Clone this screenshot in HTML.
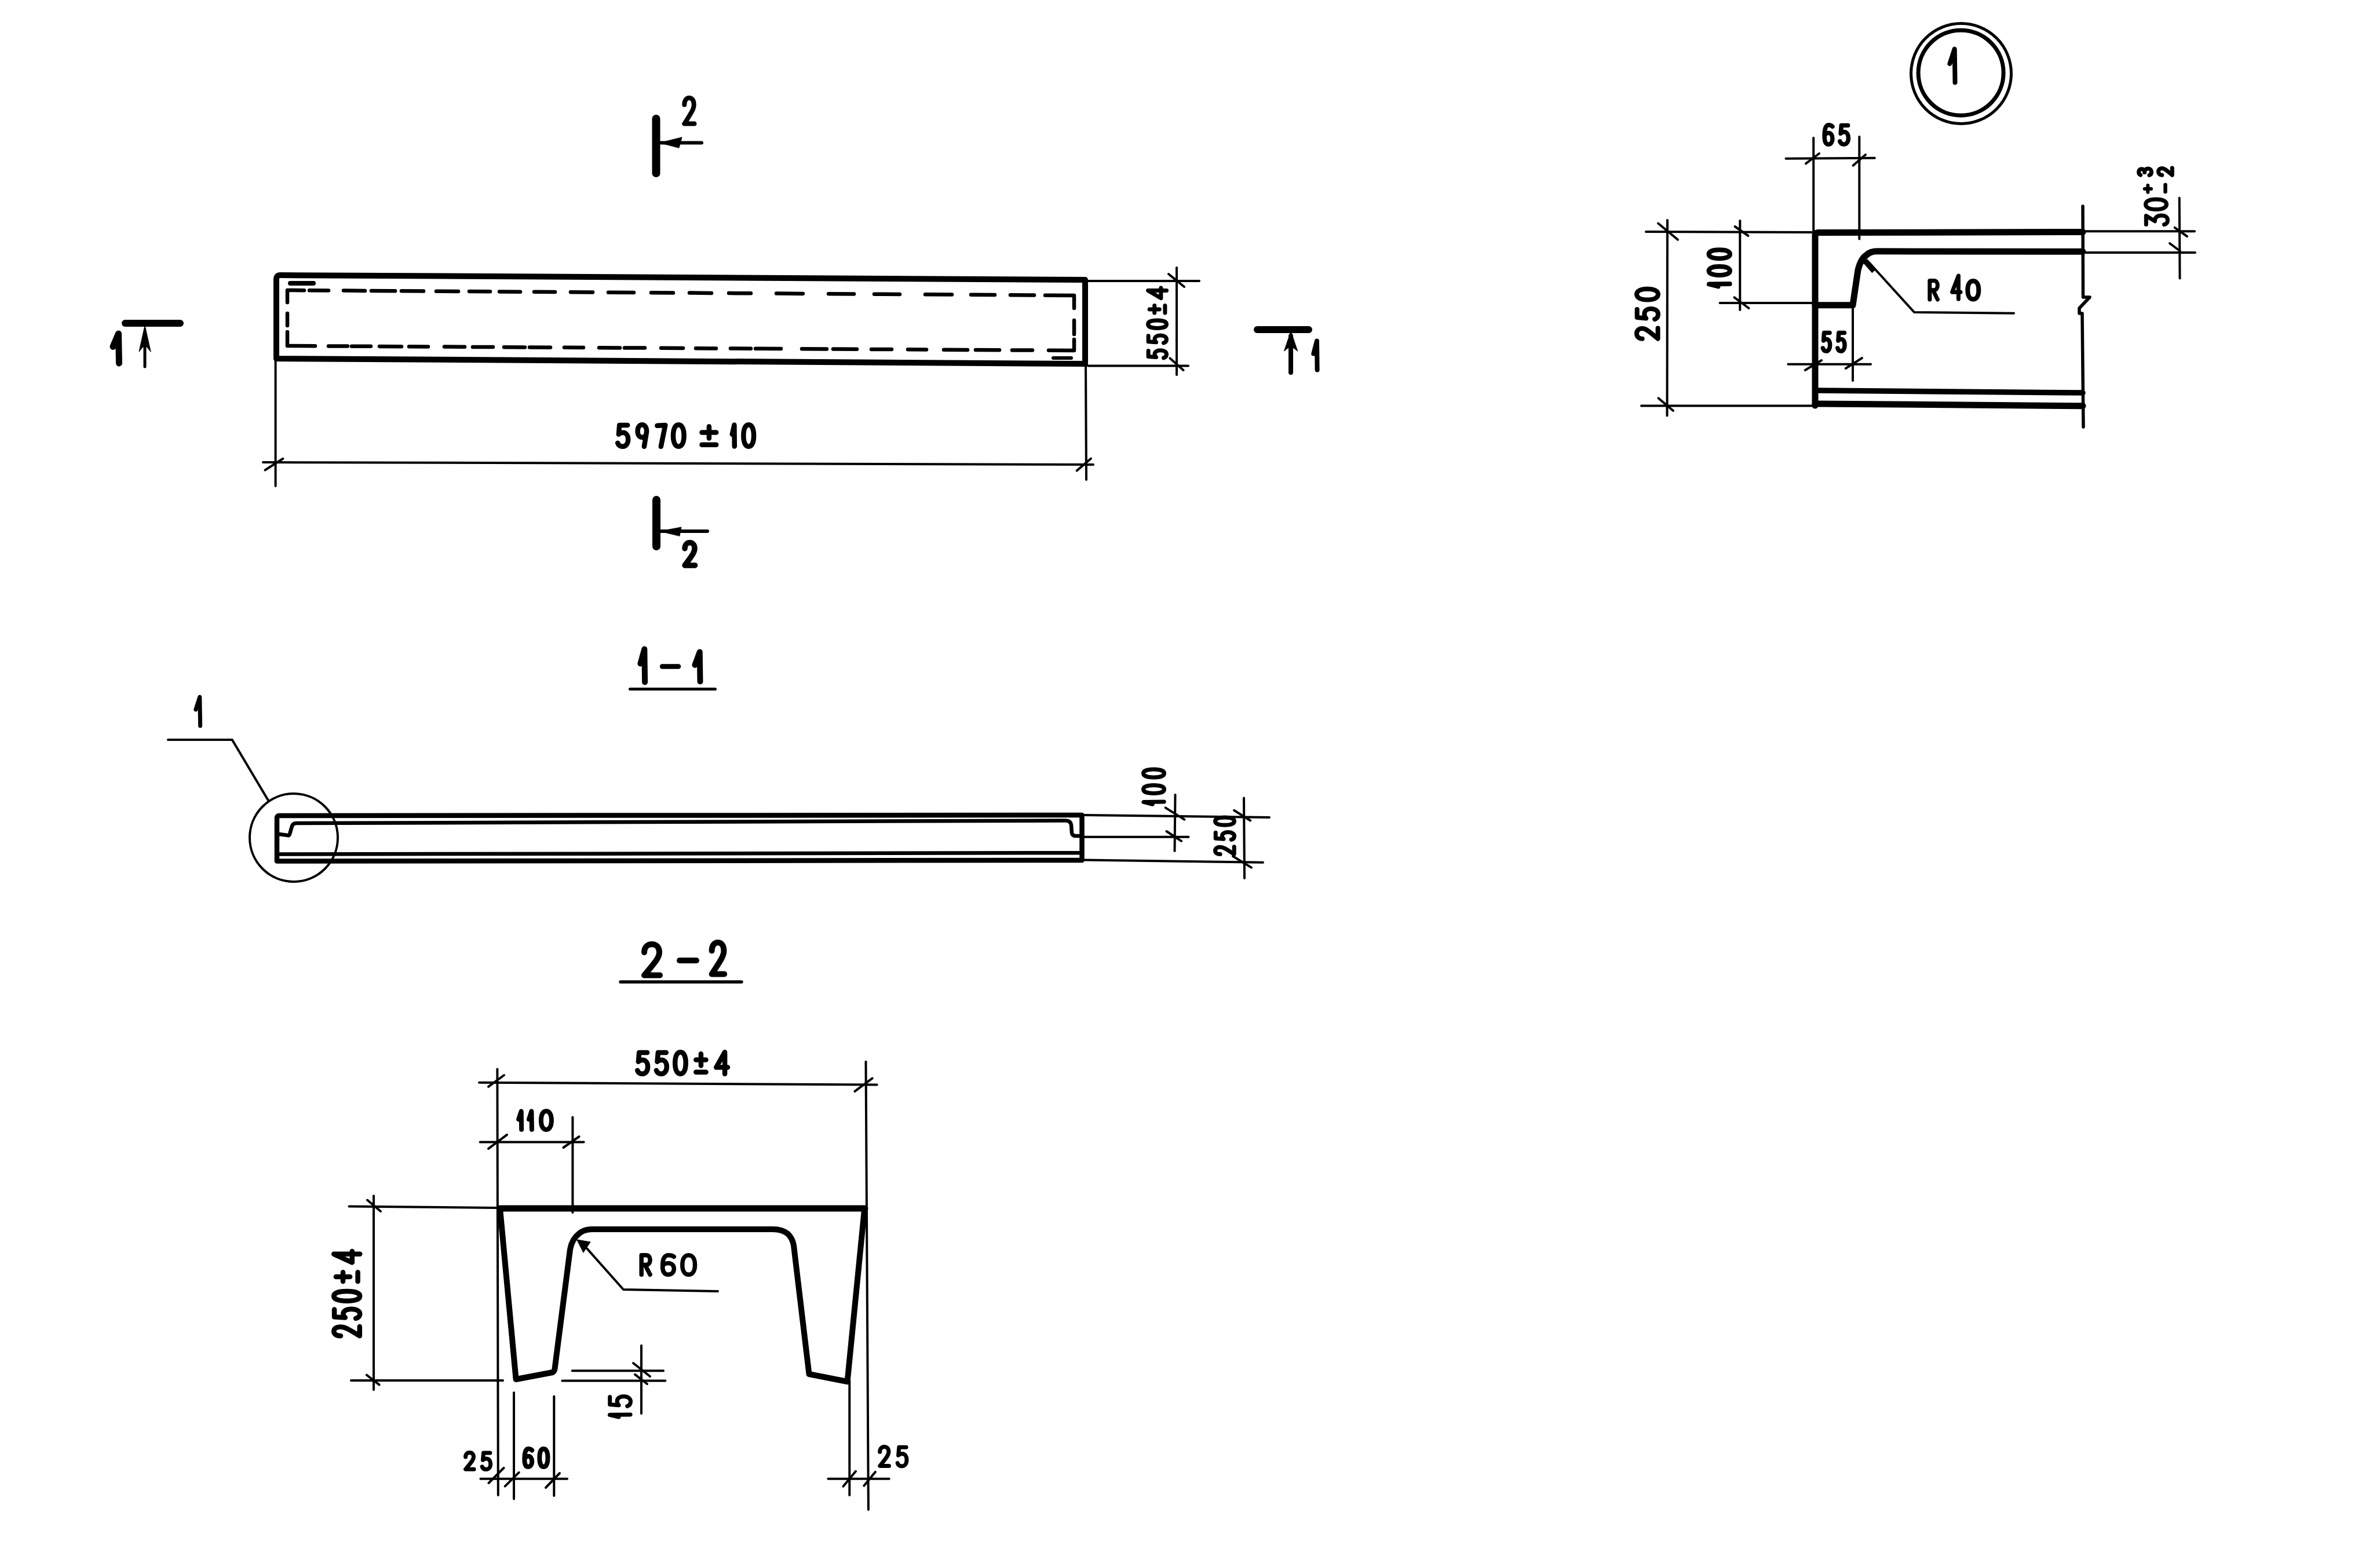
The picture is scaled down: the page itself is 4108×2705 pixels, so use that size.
<!DOCTYPE html>
<html><head><meta charset="utf-8"><style>
html,body{margin:0;padding:0;background:#fff;}
body{width:4108px;height:2705px;overflow:hidden;font-family:"Liberation Sans",sans-serif;}
svg{display:block;}
svg path,svg circle{fill:none;stroke:#000;stroke-linecap:round;stroke-linejoin:round;}
</style></head><body>
<svg width="4108" height="2705" viewBox="0 0 4108 2705">
<rect x="0" y="0" width="4108" height="2705" fill="#fff"/>
<path d="M477,619 L477,482 Q477,475 484,475 L1873,483 L1873,628 Z" stroke-width="10" stroke-linejoin="round"/>
<path d="M501.0,489.0 L541.0,489.0" stroke-width="8"/>
<path d="M1818.0,618.0 L1849.0,618.0" stroke-width="6"/>
<path d="M534.0,501.3 L567.0,501.5" stroke-width="6.5"/>
<path d="M593.0,501.6 L630.0,501.9" stroke-width="6.5"/>
<path d="M641.0,502.0 L682.0,502.2" stroke-width="6.5"/>
<path d="M693.0,502.3 L731.0,502.6" stroke-width="6.5"/>
<path d="M753.0,502.7 L791.0,503.0" stroke-width="6.5"/>
<path d="M810.0,503.1 L846.0,503.3" stroke-width="6.5"/>
<path d="M862.0,503.4 L898.0,503.7" stroke-width="6.5"/>
<path d="M922.0,503.8 L958.0,504.1" stroke-width="6.5"/>
<path d="M985.0,504.2 L1023.0,504.5" stroke-width="6.5"/>
<path d="M1050.0,504.7 L1094.0,505.0" stroke-width="6.5"/>
<path d="M1124.0,505.2 L1162.0,505.4" stroke-width="6.5"/>
<path d="M1190.0,505.6 L1228.0,505.9" stroke-width="6.5"/>
<path d="M1258.0,506.1 L1296.0,506.3" stroke-width="6.5"/>
<path d="M1340.0,506.6 L1386.0,506.9" stroke-width="6.5"/>
<path d="M1430.0,507.2 L1474.0,507.5" stroke-width="6.5"/>
<path d="M1509.0,507.7 L1553.0,508.0" stroke-width="6.5"/>
<path d="M1597.0,508.3 L1643.0,508.6" stroke-width="6.5"/>
<path d="M1676.0,508.8 L1717.0,509.1" stroke-width="6.5"/>
<path d="M1744.0,509.3 L1785.0,509.5" stroke-width="6.5"/>
<path d="M567.0,597.4 L600.0,597.6" stroke-width="6.5"/>
<path d="M607.0,597.7 L640.0,597.8" stroke-width="6.5"/>
<path d="M655.0,597.9 L693.0,598.2" stroke-width="6.5"/>
<path d="M706.0,598.2 L739.0,598.4" stroke-width="6.5"/>
<path d="M767.0,598.6 L802.0,598.8" stroke-width="6.5"/>
<path d="M816.0,598.9 L851.0,599.1" stroke-width="6.5"/>
<path d="M870.0,599.2 L906.0,599.4" stroke-width="6.5"/>
<path d="M914.0,599.5 L950.0,599.7" stroke-width="6.5"/>
<path d="M974.0,599.8 L1007.0,600.0" stroke-width="6.5"/>
<path d="M1034.0,600.2 L1070.0,600.4" stroke-width="6.5"/>
<path d="M1078.0,600.4 L1113.0,600.6" stroke-width="6.5"/>
<path d="M1141.0,600.8 L1179.0,601.0" stroke-width="6.5"/>
<path d="M1201.0,601.2 L1236.0,601.4" stroke-width="6.5"/>
<path d="M1261.0,601.5 L1296.0,601.7" stroke-width="6.5"/>
<path d="M1304.0,601.8 L1348.0,602.0" stroke-width="6.5"/>
<path d="M1384.0,602.2 L1427.0,602.5" stroke-width="6.5"/>
<path d="M1438.0,602.5 L1479.0,602.8" stroke-width="6.5"/>
<path d="M1504.0,602.9 L1539.0,603.1" stroke-width="6.5"/>
<path d="M1567.0,603.3 L1599.0,603.5" stroke-width="6.5"/>
<path d="M1629.0,603.7 L1670.0,603.9" stroke-width="6.5"/>
<path d="M1684.0,604.0 L1725.0,604.2" stroke-width="6.5"/>
<path d="M1747.0,604.4 L1782.0,604.6" stroke-width="6.5"/>
<path d="M525.0,501.2 L496.0,501.0 L496.0,522.0" stroke-width="6.5"/>
<path d="M496.0,541.0 L496.0,562.0" stroke-width="6.5"/>
<path d="M496.0,573.0 L496.0,597.0 L544.0,597.3" stroke-width="6.5"/>
<path d="M1804.0,509.7 L1854.0,510.0 L1854.0,532.0" stroke-width="6.5"/>
<path d="M1854.0,553.0 L1854.0,577.0" stroke-width="6.5"/>
<path d="M1854.0,586.0 L1854.0,605.0 L1810.0,604.7" stroke-width="6.5"/>
<path d="M475.6,622.0 L475.6,839.0" stroke-width="4"/>
<path d="M1874.0,628.0 L1875.0,828.0" stroke-width="4"/>
<path d="M454.0,798.0 L1887.0,802.0" stroke-width="4"/>
<path d="M457.5,811.5 L488.4,791.8" stroke-width="4"/>
<path d="M1858.6,812.4 L1883.0,791.5" stroke-width="4"/>
<path d="M 1083.2,734.0 L 1069.2,734.0 L 1067.9,749.8 C 1069.9,747.5 1072.6,746.8 1075.2,746.8 C 1080.9,746.8 1084.2,752.0 1084.2,758.4 C 1084.2,765.9 1080.2,770.8 1074.9,770.8 C 1070.2,770.8 1067.2,768.1 1066.2,764.8" stroke-width="8.5"/>
<path d="M 1116.1,745.2 C 1115.8,751.2 1112.8,755.0 1108.3,755.0 C 1103.5,755.0 1100.6,750.5 1100.6,744.1 C 1100.6,737.8 1103.8,733.2 1108.3,733.2 C 1113.1,733.2 1116.1,737.8 1116.1,745.2 L 1111.9,770.8" stroke-width="8.5"/>
<path d="M 1134.3,734.8 L 1148.3,734.0 L 1140.8,770.8" stroke-width="8.5"/>
<path d="M 1171.3,733.2 C 1176.9,733.2 1180.6,740.0 1180.6,752.0 C 1180.6,764.0 1176.9,770.8 1171.3,770.8 C 1165.6,770.8 1162.0,764.0 1162.0,752.0 C 1162.0,740.0 1165.6,733.2 1171.3,733.2 Z" stroke-width="8.5"/>
<path d="M 1223.9,736.2 L 1223.9,756.5 M 1211.5,746.4 L 1236.2,746.4 M 1211.5,767.8 L 1236.2,767.8" stroke-width="8.5"/>
<path d="M 1263.8,749.8 L 1267.4,733.6 L 1267.8,770.4" stroke-width="8.5"/>
<path d="M 1292.2,733.2 C 1297.6,733.2 1301.1,740.0 1301.1,752.0 C 1301.1,764.0 1297.6,770.8 1292.2,770.8 C 1286.8,770.8 1283.3,764.0 1283.3,752.0 C 1283.3,740.0 1286.8,733.2 1292.2,733.2 Z" stroke-width="8.5"/>
<path d="M1878.0,485.0 L2070.0,485.0" stroke-width="4"/>
<path d="M1878.0,631.5 L2051.0,631.5" stroke-width="4"/>
<path d="M2031.0,462.0 L2031.0,647.0" stroke-width="4"/>
<path d="M2017.0,473.0 L2044.0,495.0" stroke-width="4"/>
<path d="M2019.5,618.4 L2042.5,639.0" stroke-width="4"/>
<path d="M 1982.1,605.5 L 1982.1,615.6 L 1995.6,616.6 C 1993.7,615.1 1993.0,613.2 1993.0,611.2 C 1993.0,607.1 1997.5,604.7 2002.9,604.7 C 2009.3,604.7 2013.5,607.6 2013.5,611.5 C 2013.5,614.9 2011.3,617.0 2008.4,617.8" stroke-width="7.0"/>
<path d="M 1982.1,579.7 L 1982.1,589.8 L 1995.6,590.8 C 1993.7,589.3 1993.0,587.4 1993.0,585.5 C 1993.0,581.3 1997.5,578.9 2002.9,578.9 C 2009.3,578.9 2013.5,581.8 2013.5,585.7 C 2013.5,589.1 2011.3,591.2 2008.4,592.0" stroke-width="7.0"/>
<path d="M 1981.5,559.7 C 1981.5,555.5 1987.3,552.9 1997.5,552.9 C 2007.7,552.9 2013.5,555.5 2013.5,559.7 C 2013.5,563.8 2007.7,566.4 1997.5,566.4 C 1987.3,566.4 1981.5,563.8 1981.5,559.7 Z" stroke-width="7.0"/>
<path d="M 1984.1,533.9 L 2001.3,533.9 M 1992.7,540.1 L 1992.7,527.6 M 2010.9,540.1 L 2010.9,527.6" stroke-width="7.0"/>
<path d="M 2013.5,501.5 L 1981.5,501.5 L 2003.9,514.7 L 2003.9,497.1" stroke-width="7.0"/>
<path d="M216.0,558.0 L311.0,558.0" stroke-width="12"/>
<path d="M250.0,575.0 L250.0,633.0" stroke-width="5"/>
<path d="M250.0,562.0 L240.0,607.0 L246.5,599.0 L253.5,599.0 L260.0,607.0 Z" style="fill:#000;stroke:#000;stroke-width:1"/>
<path d="M 195.0,598.4 L 204.5,576.0 L 205.5,627.0" stroke-width="11.0"/>
<path d="M2170.0,569.0 L2259.0,569.0" stroke-width="12"/>
<path d="M2228.0,580.0 L2228.0,643.0" stroke-width="8"/>
<path d="M2228.0,572.0 L2216.5,606.0 L2224.0,600.0 L2232.0,600.0 L2239.5,606.0 Z" style="fill:#000;stroke:#000;stroke-width:1"/>
<path d="M 2267.3,610.4 L 2273.0,588.5 L 2273.6,638.5" stroke-width="8.0"/>
<path d="M1132.5,205.0 L1132.5,299.0" stroke-width="14"/>
<path d="M1140.0,246.5 L1211.0,246.5" stroke-width="6"/>
<path d="M1139.0,246.5 L1177.0,237.0 L1172.0,255.0 Z" style="fill:#000;stroke:#000;stroke-width:1"/>
<path d="M 1181.3,180.7 C 1181.3,173.5 1184.8,169.0 1189.5,169.0 C 1194.6,169.0 1197.7,173.5 1197.7,180.7 C 1197.7,187.9 1193.9,193.8 1181.3,213.6 L 1198.4,213.6" stroke-width="8.0"/>
<path d="M1133.0,863.0 L1133.0,943.0" stroke-width="14"/>
<path d="M1140.0,917.0 L1221.0,917.0" stroke-width="6"/>
<path d="M1139.0,917.0 L1176.0,910.0 L1173.0,925.0 Z" style="fill:#000;stroke:#000;stroke-width:1"/>
<path d="M 1182.0,947.0 C 1182.0,940.7 1185.6,936.8 1190.5,936.8 C 1195.7,936.8 1199.0,940.7 1199.0,947.0 C 1199.0,953.3 1195.0,958.5 1182.0,975.9 L 1199.6,975.9" stroke-width="9.5"/>
<path d="M 1105.4,1145.5 L 1112.3,1120.6 L 1113.1,1177.4" stroke-width="10.0"/>
<path d="M1143.0,1150.5 L1171.0,1150.5" stroke-width="8.5"/>
<path d="M 1199.4,1147.9 L 1207.7,1125.5 L 1208.5,1176.5" stroke-width="10.0"/>
<path d="M1087.5,1189.5 L1234.5,1189.5" stroke-width="5"/>
<path d="M 337.9,1224.9 L 344.8,1203.0 L 345.6,1253.0" stroke-width="7.0"/>
<path d="M290.0,1277.0 L400.7,1277.0 L463.2,1382.0" stroke-width="4"/>
<circle cx="507" cy="1446" r="76" stroke-width="4"/>
<path d="M478,1486.5 L478,1412 Q478,1408 482,1408 L1867.5,1407 L1867.5,1485 L482,1486.5 Z" stroke-width="8.5" stroke-linejoin="round"/>
<path d="M482.0,1474.6 L1862.0,1472.2" stroke-width="6.5"/>
<path d="M482,1440 L497,1442 Q499,1443 500,1440 L504,1426 Q506,1421 512,1421 L1839,1416.5 Q1848,1416.5 1849,1424 L1850,1438 Q1851,1443 1857,1443 L1862,1443" stroke-width="6.5" stroke-linejoin="round"/>
<path d="M1872.0,1407.0 L2191.0,1411.0" stroke-width="4"/>
<path d="M1872.0,1444.7 L2051.5,1444.7" stroke-width="4"/>
<path d="M1872.0,1484.4 L2180.0,1488.8" stroke-width="4"/>
<path d="M2028.5,1372.0 L2027.5,1469.0" stroke-width="4"/>
<path d="M2147.0,1377.6 L2148.0,1516.0" stroke-width="4"/>
<path d="M2011.7,1394.4 L2044.4,1414.7" stroke-width="4"/>
<path d="M2013.5,1435.0 L2039.0,1451.8" stroke-width="4"/>
<path d="M2130.0,1398.8 L2158.2,1416.5" stroke-width="4"/>
<path d="M2128.0,1478.0 L2160.0,1497.6" stroke-width="4"/>
<path d="M 1989.3,1388.3 L 1973.9,1384.4 L 2009.1,1384.0" stroke-width="7.0"/>
<path d="M 1973.5,1362.4 C 1973.5,1358.2 1980.0,1355.4 1991.5,1355.4 C 2003.0,1355.4 2009.5,1358.2 2009.5,1362.4 C 2009.5,1366.6 2003.0,1369.4 1991.5,1369.4 C 1980.0,1369.4 1973.5,1366.6 1973.5,1362.4 Z" stroke-width="7.0"/>
<path d="M 1973.5,1335.0 C 1973.5,1330.7 1980.0,1328.0 1991.5,1328.0 C 2003.0,1328.0 2009.5,1330.7 2009.5,1335.0 C 2009.5,1339.2 2003.0,1341.9 1991.5,1341.9 C 1980.0,1341.9 1973.5,1339.2 1973.5,1335.0 Z" stroke-width="7.0"/>
<path d="M 2106.1,1474.6 C 2100.8,1474.6 2097.5,1472.0 2097.5,1468.4 C 2097.5,1464.6 2100.8,1462.3 2106.1,1462.3 C 2111.4,1462.3 2115.7,1465.1 2130.2,1474.6 L 2130.2,1461.8" stroke-width="7.0"/>
<path d="M 2098.2,1437.3 L 2098.2,1447.3 L 2112.0,1448.2 C 2110.0,1446.8 2109.4,1444.9 2109.4,1443.0 C 2109.4,1439.0 2114.0,1436.6 2119.6,1436.6 C 2126.2,1436.6 2130.5,1439.5 2130.5,1443.2 C 2130.5,1446.5 2128.2,1448.7 2125.2,1449.4" stroke-width="7.0"/>
<path d="M 2097.5,1417.6 C 2097.5,1413.6 2103.4,1411.0 2114.0,1411.0 C 2124.6,1411.0 2130.5,1413.6 2130.5,1417.6 C 2130.5,1421.6 2124.6,1424.2 2114.0,1424.2 C 2103.4,1424.2 2097.5,1421.6 2097.5,1417.6 Z" stroke-width="7.0"/>
<path d="M 1112.0,1644.0 C 1112.0,1635.4 1117.5,1630.0 1125.0,1630.0 C 1133.0,1630.0 1138.0,1635.4 1138.0,1644.0 C 1138.0,1652.7 1132.0,1659.7 1112.0,1683.5 L 1139.0,1683.5" stroke-width="10.0"/>
<path d="M1173.0,1658.0 L1202.0,1658.0" stroke-width="10"/>
<path d="M 1228.6,1641.3 C 1228.6,1632.5 1233.0,1627.0 1239.0,1627.0 C 1245.4,1627.0 1249.4,1632.5 1249.4,1641.3 C 1249.4,1650.1 1244.6,1657.2 1228.6,1681.5 L 1250.2,1681.5" stroke-width="10.0"/>
<path d="M1071.0,1695.0 L1280.0,1695.0" stroke-width="5.5"/>
<path d="M858.4,1845.5 L859.8,2581.0" stroke-width="4"/>
<path d="M1494.5,1832.7 L1498.9,2606.0" stroke-width="4"/>
<path d="M827.0,1868.8 L1513.7,1872.6" stroke-width="4"/>
<path d="M843.0,1875.8 L870.0,1856.0" stroke-width="4"/>
<path d="M1475.4,1883.8 L1505.7,1861.4" stroke-width="4"/>
<path d="M 1117.1,1817.0 L 1103.2,1817.0 L 1101.9,1832.8 C 1103.9,1830.5 1106.5,1829.8 1109.2,1829.8 C 1114.8,1829.8 1118.1,1835.0 1118.1,1841.4 C 1118.1,1848.9 1114.2,1853.8 1108.9,1853.8 C 1104.2,1853.8 1101.2,1851.1 1100.2,1847.8" stroke-width="8.5"/>
<path d="M 1149.8,1817.0 L 1135.9,1817.0 L 1134.5,1832.8 C 1136.5,1830.5 1139.2,1829.8 1141.8,1829.8 C 1147.5,1829.8 1150.8,1835.0 1150.8,1841.4 C 1150.8,1848.9 1146.8,1853.8 1141.5,1853.8 C 1136.9,1853.8 1133.9,1851.1 1132.9,1847.8" stroke-width="8.5"/>
<path d="M 1174.5,1816.2 C 1180.1,1816.2 1183.7,1823.0 1183.7,1835.0 C 1183.7,1847.0 1180.1,1853.8 1174.5,1853.8 C 1168.8,1853.8 1165.2,1847.0 1165.2,1835.0 C 1165.2,1823.0 1168.8,1816.2 1174.5,1816.2 Z" stroke-width="8.5"/>
<path d="M 1209.9,1819.2 L 1209.9,1839.5 M 1201.3,1829.4 L 1218.5,1829.4 M 1201.3,1850.8 L 1218.5,1850.8" stroke-width="8.5"/>
<path d="M 1251.1,1853.8 L 1251.1,1816.2 L 1236.2,1842.5 L 1256.0,1842.5" stroke-width="8.5"/>
<path d="M828.7,1971.6 L1007.6,1971.6" stroke-width="4"/>
<path d="M988.4,1928.5 L988.4,2093.0" stroke-width="4"/>
<path d="M843.0,1982.8 L875.0,1958.8" stroke-width="4"/>
<path d="M972.4,1981.0 L999.6,1962.0" stroke-width="4"/>
<path d="M 895.2,1932.1 L 899.7,1918.3 L 900.1,1949.7" stroke-width="8.0"/>
<path d="M 913.0,1932.1 L 917.4,1918.3 L 917.9,1949.7" stroke-width="8.0"/>
<path d="M 942.9,1918.0 C 948.3,1918.0 951.9,1923.8 951.9,1934.0 C 951.9,1944.2 948.3,1950.0 942.9,1950.0 C 937.4,1950.0 933.9,1944.2 933.9,1934.0 C 933.9,1923.8 937.4,1918.0 942.9,1918.0 Z" stroke-width="8.0"/>
<path d="M863.0,2086.0 L1493.0,2086.0" stroke-width="11"/>
<path d="M863,2086 L890.6,2381 L953.8,2369 Q957,2367 957.5,2363 L984,2157 Q987,2139 1000,2129 Q1008,2122 1022,2122 L1334.7,2122 Q1350,2122 1360,2130 Q1368,2138 1370,2150 L1396.5,2372 L1462.6,2385 L1492,2088" stroke-width="10" stroke-linejoin="round"/>
<path d="M1005.0,2146.0 L1076.0,2226.0 L1239.0,2229.0" stroke-width="4"/>
<path d="M996.0,2140.0 L1019.0,2144.0 L1007.0,2162.0 Z" style="fill:#000;stroke:#000;stroke-width:1"/>
<path d="M 1107.2,2200.2 L 1107.2,2166.8 L 1115.3,2166.8 C 1119.7,2166.8 1122.1,2170.1 1122.1,2175.1 C 1122.1,2180.2 1119.3,2183.5 1115.3,2183.5 L 1107.2,2183.5 M 1113.4,2183.5 L 1122.1,2200.2" stroke-width="7.5"/>
<path d="M 1163.3,2169.4 C 1161.0,2167.8 1157.9,2166.8 1154.0,2166.8 C 1147.1,2166.8 1143.6,2173.4 1143.6,2185.5 C 1143.6,2195.6 1147.1,2200.2 1153.3,2200.2 C 1159.5,2200.2 1163.3,2195.9 1163.3,2190.2 C 1163.3,2184.5 1159.5,2180.5 1153.3,2180.5 C 1147.8,2180.5 1144.4,2183.5 1143.6,2186.8" stroke-width="7.5"/>
<path d="M 1188.6,2166.8 C 1195.2,2166.8 1199.5,2172.8 1199.5,2183.5 C 1199.5,2194.2 1195.2,2200.2 1188.6,2200.2 C 1182.0,2200.2 1177.8,2194.2 1177.8,2183.5 C 1177.8,2172.8 1182.0,2166.8 1188.6,2166.8 Z" stroke-width="7.5"/>
<path d="M645.0,2064.3 L645.0,2399.0" stroke-width="4"/>
<path d="M602.4,2082.4 L857.0,2085.0" stroke-width="4"/>
<path d="M606.0,2383.0 L868.0,2383.0" stroke-width="4"/>
<path d="M634.0,2071.5 L657.0,2091.0" stroke-width="4"/>
<path d="M632.8,2373.5 L654.6,2390.4" stroke-width="4"/>
<path d="M 588.0,2306.1 C 580.8,2306.1 576.2,2302.8 576.2,2298.3 C 576.2,2293.5 580.8,2290.5 588.0,2290.5 C 595.1,2290.5 601.0,2294.1 620.8,2306.1 L 620.8,2289.9" stroke-width="8.5"/>
<path d="M 577.1,2260.6 L 577.1,2273.2 L 596.0,2274.4 C 593.4,2272.6 592.5,2270.2 592.5,2267.8 C 592.5,2262.7 598.8,2259.7 606.4,2259.7 C 615.4,2259.7 621.2,2263.3 621.2,2268.1 C 621.2,2272.3 618.1,2275.0 614.0,2275.9" stroke-width="8.5"/>
<path d="M 576.2,2237.3 C 576.2,2232.2 584.4,2228.9 598.8,2228.9 C 613.1,2228.9 621.2,2232.2 621.2,2237.3 C 621.2,2242.4 613.1,2245.7 598.8,2245.7 C 584.4,2245.7 576.2,2242.4 576.2,2237.3 Z" stroke-width="8.5"/>
<path d="M 579.9,2204.1 L 604.1,2204.1 M 592.0,2211.9 L 592.0,2196.3 M 617.6,2211.9 L 617.6,2196.3" stroke-width="8.5"/>
<path d="M 621.2,2164.8 L 576.2,2164.8 L 607.8,2179.3 L 607.8,2159.9" stroke-width="8.5"/>
<path d="M987.8,2366.2 L1145.0,2366.2" stroke-width="4"/>
<path d="M970.4,2383.5 L1148.3,2383.5" stroke-width="4"/>
<path d="M1107.0,2322.8 L1107.0,2440.0" stroke-width="4"/>
<path d="M1093.0,2353.0 L1122.0,2376.0" stroke-width="4"/>
<path d="M1096.0,2372.7 L1117.0,2389.0" stroke-width="4"/>
<path d="M 1068.1,2446.0 L 1052.4,2442.3 L 1088.1,2441.9" stroke-width="7.0"/>
<path d="M 1052.7,2411.4 L 1052.7,2424.5 L 1068.1,2425.7 C 1065.9,2423.8 1065.1,2421.3 1065.1,2418.9 C 1065.1,2413.6 1070.2,2410.4 1076.5,2410.4 C 1083.8,2410.4 1088.5,2414.2 1088.5,2419.2 C 1088.5,2423.5 1085.9,2426.3 1082.7,2427.3" stroke-width="7.0"/>
<path d="M829.4,2552.7 L979.0,2552.7" stroke-width="4"/>
<path d="M887.0,2404.0 L887.0,2587.4" stroke-width="4"/>
<path d="M956.3,2410.6 L956.3,2582.0" stroke-width="4"/>
<path d="M843.5,2560.0 L869.5,2534.0" stroke-width="4"/>
<path d="M871.7,2565.7 L895.6,2541.9" stroke-width="4"/>
<path d="M942.0,2568.0 L966.0,2543.0" stroke-width="4"/>
<path d="M 803.6,2515.0 C 803.6,2510.4 806.5,2507.5 810.6,2507.5 C 814.9,2507.5 817.5,2510.4 817.5,2515.0 C 817.5,2519.7 814.3,2523.4 803.6,2536.2 L 818.1,2536.2" stroke-width="7.0"/>
<path d="M 845.9,2508.1 L 834.6,2508.1 L 833.5,2520.3 C 835.1,2518.5 837.3,2517.9 839.4,2517.9 C 844.0,2517.9 846.7,2522.0 846.7,2526.9 C 846.7,2532.7 843.5,2536.5 839.2,2536.5 C 835.4,2536.5 833.0,2534.5 832.2,2531.9" stroke-width="7.0"/>
<path d="M 918.2,2503.5 C 916.7,2501.9 914.7,2501.0 912.1,2501.0 C 907.6,2501.0 905.3,2507.2 905.3,2518.4 C 905.3,2527.7 907.6,2532.0 911.6,2532.0 C 915.7,2532.0 918.2,2528.0 918.2,2522.7 C 918.2,2517.4 915.7,2513.7 911.6,2513.7 C 908.1,2513.7 905.8,2516.5 905.3,2519.6" stroke-width="8.0"/>
<path d="M 938.4,2501.0 C 942.7,2501.0 945.5,2506.6 945.5,2516.5 C 945.5,2526.4 942.7,2532.0 938.4,2532.0 C 934.0,2532.0 931.3,2526.4 931.3,2516.5 C 931.3,2506.6 934.0,2501.0 938.4,2501.0 Z" stroke-width="8.0"/>
<path d="M1429.4,2552.8 L1534.7,2552.8" stroke-width="4"/>
<path d="M1466.3,2384.0 L1466.3,2581.0" stroke-width="4"/>
<path d="M1455.5,2565.8 L1477.0,2539.8" stroke-width="4"/>
<path d="M1491.3,2564.7 L1510.8,2540.9" stroke-width="4"/>
<path d="M 1518.7,2506.2 C 1518.7,2500.8 1521.9,2497.5 1526.3,2497.5 C 1531.0,2497.5 1533.9,2500.8 1533.9,2506.2 C 1533.9,2511.5 1530.4,2515.9 1518.7,2530.6 L 1534.5,2530.6" stroke-width="7.0"/>
<path d="M 1564.1,2498.2 L 1551.8,2498.2 L 1550.6,2512.2 C 1552.4,2510.2 1554.7,2509.5 1557.1,2509.5 C 1562.1,2509.5 1565.0,2514.2 1565.0,2519.9 C 1565.0,2526.6 1561.5,2530.9 1556.8,2530.9 C 1552.7,2530.9 1550.0,2528.6 1549.2,2525.6" stroke-width="7.0"/>
<circle cx="3385" cy="127" r="86.5" stroke-width="5"/>
<circle cx="3384.6" cy="125.7" r="73.5" stroke-width="7"/>
<path d="M 3365.4,110.0 L 3373.7,84.6 L 3374.5,142.4" stroke-width="8.0"/>
<path d="M2841.0,400.0 L3127.0,401.0" stroke-width="4"/>
<path d="M2878.0,380.0 L2877.5,717.6" stroke-width="4"/>
<path d="M2833.0,700.6 L3129.0,700.6" stroke-width="4"/>
<path d="M2862.0,385.5 L2896.0,413.7" stroke-width="4"/>
<path d="M2862.4,687.3 L2888.0,709.0" stroke-width="4"/>
<path d="M 2834.6,584.7 C 2828.7,584.7 2825.0,580.9 2825.0,575.9 C 2825.0,570.5 2828.7,567.1 2834.6,567.1 C 2840.5,567.1 2845.3,571.2 2861.6,584.7 L 2861.6,566.4" stroke-width="8.0"/>
<path d="M 2825.7,533.9 L 2825.7,548.1 L 2841.3,549.4 C 2839.1,547.4 2838.3,544.7 2838.3,542.0 C 2838.3,536.3 2843.5,532.9 2849.8,532.9 C 2857.2,532.9 2862.0,536.9 2862.0,542.3 C 2862.0,547.1 2859.4,550.1 2856.1,551.1" stroke-width="8.0"/>
<path d="M 2825.0,508.1 C 2825.0,502.4 2831.7,498.7 2843.5,498.7 C 2855.3,498.7 2862.0,502.4 2862.0,508.1 C 2862.0,513.9 2855.3,517.6 2843.5,517.6 C 2831.7,517.6 2825.0,513.9 2825.0,508.1 Z" stroke-width="8.0"/>
<path d="M3003.3,381.0 L3003.3,535.0" stroke-width="4"/>
<path d="M2968.6,523.0 L3127.0,523.0" stroke-width="4"/>
<path d="M2994.6,391.0 L3017.4,407.0" stroke-width="4"/>
<path d="M2993.5,513.4 L3018.5,532.0" stroke-width="4"/>
<path d="M 2965.6,494.5 L 2949.9,490.4 L 2985.6,490.0" stroke-width="8.0"/>
<path d="M 2949.5,467.5 C 2949.5,463.0 2956.1,460.0 2967.8,460.0 C 2979.4,460.0 2986.0,463.0 2986.0,467.5 C 2986.0,472.0 2979.4,475.0 2967.8,475.0 C 2956.1,475.0 2949.5,472.0 2949.5,467.5 Z" stroke-width="8.0"/>
<path d="M 2949.5,438.7 C 2949.5,434.2 2956.1,431.2 2967.8,431.2 C 2979.4,431.2 2986.0,434.2 2986.0,438.7 C 2986.0,443.2 2979.4,446.2 2967.8,446.2 C 2956.1,446.2 2949.5,443.2 2949.5,438.7 Z" stroke-width="8.0"/>
<path d="M3130.2,238.0 L3130.2,400.0" stroke-width="4"/>
<path d="M3209.3,236.0 L3209.3,412.6" stroke-width="4"/>
<path d="M3082.5,273.8 L3235.8,272.7" stroke-width="4"/>
<path d="M3117.0,282.4 L3140.0,265.0" stroke-width="4"/>
<path d="M3198.5,285.7 L3220.0,267.0" stroke-width="4"/>
<path d="M 3162.9,218.4 C 3161.3,216.8 3159.1,215.8 3156.4,215.8 C 3151.5,215.8 3149.1,222.4 3149.1,234.5 C 3149.1,244.6 3151.5,249.2 3155.9,249.2 C 3160.2,249.2 3162.9,244.9 3162.9,239.2 C 3162.9,233.5 3160.2,229.5 3155.9,229.5 C 3152.1,229.5 3149.6,232.5 3149.1,235.8" stroke-width="7.5"/>
<path d="M 3189.6,216.4 L 3178.3,216.4 L 3177.2,230.5 C 3178.8,228.5 3181.0,227.8 3183.1,227.8 C 3187.7,227.8 3190.4,232.5 3190.4,238.2 C 3190.4,244.9 3187.2,249.2 3182.9,249.2 C 3179.1,249.2 3176.7,246.9 3175.8,243.9" stroke-width="7.5"/>
<path d="M3133,700 L3133,406 Q3133,401.5 3138,401.5 L3595,400.5" stroke-width="11" stroke-linejoin="round"/>
<path d="M3133,526.8 L3198,526.8 L3207,466 Q3212,446 3222,440 Q3228,434 3240,433.8 L3595,434.3" stroke-width="11" stroke-linejoin="round"/>
<path d="M3135.0,674.0 L3595.0,678.0" stroke-width="9.5"/>
<path d="M3133.0,697.0 L3595.0,700.7" stroke-width="11"/>
<path d="M3595,356 L3595.5,513 L3607,513 L3589,532 L3589,541 L3594,541 L3596,737" stroke-width="5.5" stroke-linejoin="round"/>
<path d="M3086.4,628.7 L3229.0,628.7" stroke-width="4"/>
<path d="M3198.0,526.0 L3198.0,657.0" stroke-width="4"/>
<path d="M3115.7,639.0 L3144.0,622.0" stroke-width="4"/>
<path d="M3185.7,636.0 L3214.0,618.0" stroke-width="4"/>
<path d="M 3158.0,574.4 L 3148.5,574.4 L 3147.6,588.0 C 3148.9,586.1 3150.8,585.5 3152.6,585.5 C 3156.4,585.5 3158.7,590.0 3158.7,595.5 C 3158.7,602.0 3156.0,606.2 3152.3,606.2 C 3149.2,606.2 3147.1,604.0 3146.4,601.0" stroke-width="7.5"/>
<path d="M 3183.4,574.4 L 3173.8,574.4 L 3172.9,588.0 C 3174.3,586.1 3176.1,585.5 3177.9,585.5 C 3181.8,585.5 3184.1,590.0 3184.1,595.5 C 3184.1,602.0 3181.3,606.2 3177.7,606.2 C 3174.5,606.2 3172.5,604.0 3171.8,601.0" stroke-width="7.5"/>
<path d="M3595.0,399.2 L3788.0,399.2" stroke-width="4"/>
<path d="M3595.0,436.0 L3789.0,436.0" stroke-width="4"/>
<path d="M3761.7,341.7 L3762.5,480.6" stroke-width="4"/>
<path d="M3753.7,392.8 L3775.0,408.0" stroke-width="4"/>
<path d="M3745.0,420.0 L3763.0,433.5" stroke-width="4"/>
<path d="M 3704.3,387.4 L 3704.3,372.6 L 3719.5,381.7 C 3718.7,375.5 3724.0,372.1 3730.9,372.1 C 3737.7,372.1 3741.5,375.5 3741.5,380.0 C 3741.5,384.0 3739.2,386.8 3735.4,387.6" stroke-width="7.0"/>
<path d="M 3703.5,352.8 C 3703.5,347.5 3710.0,344.1 3721.5,344.1 C 3733.0,344.1 3739.5,347.5 3739.5,352.8 C 3739.5,358.1 3733.0,361.5 3721.5,361.5 C 3710.0,361.5 3703.5,358.1 3703.5,352.8 Z" stroke-width="7.0"/>
<path d="M 3701.7,325.9 L 3713.0,325.9 M 3707.3,331.8 L 3707.3,319.9" stroke-width="6.0"/>
<path d="M3737.5,319.0 L3737.5,331.0" stroke-width="6.5"/>
<path d="M 3694.6,302.1 C 3692.6,301.2 3691.5,299.1 3691.5,296.8 C 3691.5,293.6 3693.7,291.8 3696.8,291.8 C 3699.9,291.8 3701.6,293.9 3701.6,297.4 C 3701.6,293.4 3704.0,291.1 3707.6,291.1 C 3711.3,291.1 3713.5,293.6 3713.5,296.8 C 3713.5,299.7 3712.0,301.8 3709.8,302.5" stroke-width="7.0"/>
<path d="M 3731.7,302.2 C 3727.9,302.2 3725.5,299.7 3725.5,296.3 C 3725.5,292.7 3727.9,290.4 3731.7,290.4 C 3735.6,290.4 3738.7,293.1 3749.3,302.2 L 3749.3,290.0" stroke-width="7.0"/>
<path d="M3225.0,452.0 L3304.0,539.0 L3476.0,540.7" stroke-width="4"/>
<path d="M3219,450 L3235,468" stroke-width="10" style="stroke-linecap:butt"/>
<path d="M 3330.8,517.0 L 3330.8,484.5 L 3338.1,484.5 C 3342.1,484.5 3344.4,487.8 3344.4,492.6 C 3344.4,497.5 3341.8,500.8 3338.1,500.8 L 3330.8,500.8 M 3336.4,500.8 L 3344.4,517.0" stroke-width="7.0"/>
<path d="M 3380.4,516.2 L 3380.4,476.1 L 3369.5,504.2 L 3384.0,504.2" stroke-width="7.0"/>
<path d="M 3405.8,485.0 C 3411.6,485.0 3415.3,490.7 3415.3,500.8 C 3415.3,510.8 3411.6,516.5 3405.8,516.5 C 3400.0,516.5 3396.3,510.8 3396.3,500.8 C 3396.3,490.7 3400.0,485.0 3405.8,485.0 Z" stroke-width="8.0"/>
</svg>
</body></html>
